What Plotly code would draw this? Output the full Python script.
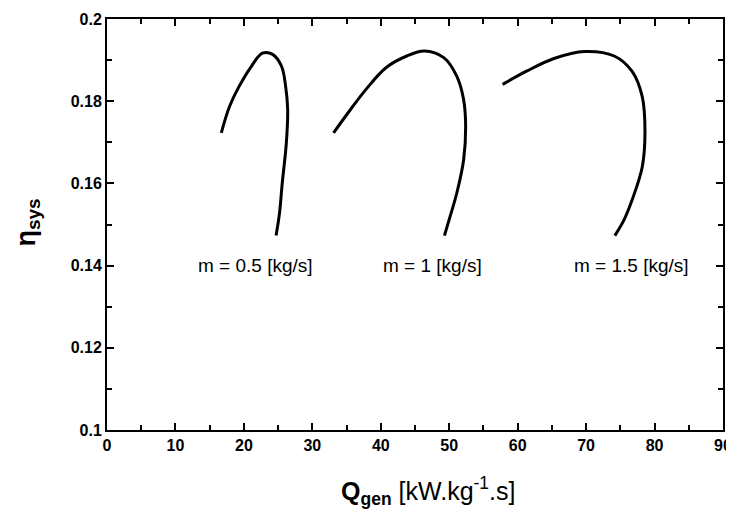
import plotly.graph_objects as go

# m = 0.5 kg/s
q1 = [16.7, 17.9, 19.3, 21.1, 22.7, 24.2, 25.5, 26.1, 26.4, 26.2, 25.6, 25.2, 24.7]
e1 = [0.1723, 0.1787, 0.1836, 0.1885, 0.1917, 0.1914, 0.1885, 0.1836, 0.1779, 0.1698, 0.1600, 0.1527, 0.1473]
# m = 1 kg/s
q2 = [33.1, 35.5, 37.9, 40.8, 43.8, 46.4, 49.2, 51.1, 52.1, 52.4, 52.1, 51.1, 50.1, 49.3]
e2 = [0.1723, 0.1778, 0.1830, 0.1882, 0.1910, 0.1922, 0.1906, 0.1861, 0.1804, 0.1738, 0.1657, 0.1576, 0.1518, 0.1473]
# m = 1.5 kg/s
q3 = [57.8, 61.3, 65.3, 69.8, 74.1, 76.7, 78.2, 78.6, 78.2, 76.7, 75.5, 74.2]
e3 = [0.1841, 0.1873, 0.1904, 0.1921, 0.1910, 0.1873, 0.1811, 0.1723, 0.1640, 0.1559, 0.1510, 0.1473]

labels = ["m = 0.5 [kg/s]", "m = 1 [kg/s]", "m = 1.5 [kg/s]"]
label_x = [21.7, 47.6, 76.6]
label_y = [0.14, 0.14, 0.14]

xticks = [0, 10, 20, 30, 40, 50, 60, 70, 80, 90]
yticks = [0.1, 0.12, 0.14, 0.16, 0.18, 0.2]
yticktext = ["0.1", "0.12", "0.14", "0.16", "0.18", "0.2"]

FONT = "Liberation Sans, Arial, sans-serif"

fig = go.Figure()
for q, e in [(q1, e1), (q2, e2), (q3, e3)]:
    fig.add_trace(go.Scatter(x=q, y=e, mode="lines",
                             line=dict(color="black", width=3, shape="spline"),
                             showlegend=False, hoverinfo="skip"))

for t, x, y in zip(labels, label_x, label_y):
    fig.add_annotation(x=x, y=y, text=t, showarrow=False,
                       font=dict(family=FONT, size=19, color="black"),
                       xanchor="center", yanchor="middle")

fig.add_annotation(xref="paper", yref="paper", x=-0.128, y=0.505,
                   text="<b>η<sub>sys</sub></b>", showarrow=False, textangle=-90,
                   font=dict(family=FONT, size=27, color="black"),
                   xanchor="center", yanchor="middle")
fig.add_annotation(xref="paper", yref="paper", x=0.522, y=-0.196,
                   text="<b>Q<sub>gen</sub></b> [kW.kg<sup>-1</sup>.s]", showarrow=False,
                   font=dict(family=FONT, size=25, color="black"),
                   xanchor="center", yanchor="bottom")

axis_common = dict(showline=True, linecolor="black", linewidth=2, mirror="ticks",
                   ticks="inside", ticklen=7, tickwidth=2, tickcolor="black",
                   showgrid=False, zeroline=False, automargin=False,
                   ticklabeloverflow="allow",
                   tickfont=dict(family=FONT, size=16, color="black", weight="bold"))

fig.update_xaxes(range=[0, 90], tickvals=xticks, ticktext=[str(v) for v in xticks],
                 minor=dict(dtick=5, ticks="inside", ticklen=5, tickwidth=2, tickcolor="black"),
                 **axis_common)
fig.update_yaxes(range=[0.1, 0.2], tickvals=yticks, ticktext=yticktext,
                 minor=dict(dtick=0.01, ticks="inside", ticklen=5, tickwidth=2, tickcolor="black"),
                 **axis_common)

# page body has an 8px default margin, so the figure is sized to end at the window edge
fig.update_layout(width=726, height=505, margin=dict(l=99, r=11, t=11, b=83),
                  plot_bgcolor="white", paper_bgcolor="white",
                  font=dict(family=FONT, color="black"))

fig.write_html("out.html")
